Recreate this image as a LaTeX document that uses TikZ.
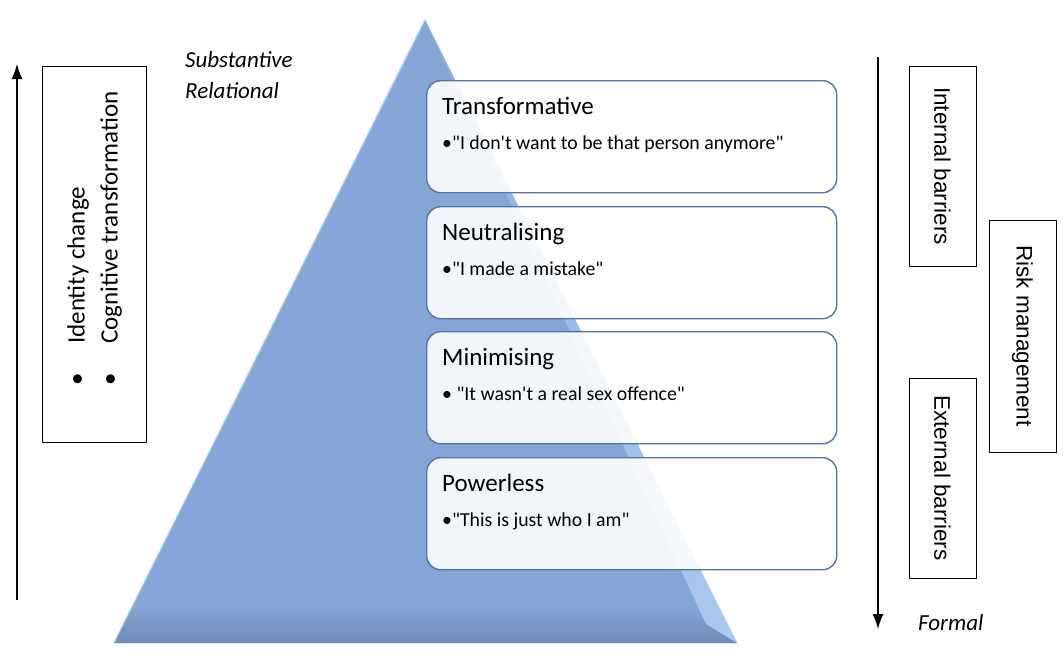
\documentclass[tikz,border=0pt]{standalone}
\usepackage{fontspec}
\usetikzlibrary{positioning,arrows.meta}
\newfontfamily\calib{Carlito}
\newfontfamily\arialf{Liberation Sans}
\definecolor{pyrblue}{RGB}{132,165,213}
\definecolor{pyrdark}{RGB}{110,138,182}
\definecolor{pyrlight}{RGB}{172,200,240}
\definecolor{edgeblue}{RGB}{82,116,170}

\begin{document}
\begin{tikzpicture}[x=1pt,y=-1pt,
	level/.style={draw=edgeblue,line width=1.4pt,rounded corners=14pt,fill=white,fill opacity=0.9,
		minimum width=410pt,minimum height=112pt,anchor=north west,inner sep=0pt},
	title/.style={font=\calib\fontsize{25}{30}\selectfont,anchor=base west,inner sep=0pt},
	quote/.style={font=\calib\fontsize{19.8}{23}\selectfont,anchor=base west,inner sep=0pt},
	sidebox/.style={draw,line width=1pt,rotate=-90,inner sep=0pt,minimum height=67pt,
		font=\arialf\fontsize{22.5}{26}\selectfont},
	tag/.style={font=\calib\itshape\fontsize{23}{26}\selectfont,anchor=base west,inner sep=0pt},
	arr/.style={line width=1.2pt,-{Latex[length=15pt,width=11pt]}}]
\useasboundingbox (0,0) rectangle (1064,670);

% pyramid
\fill[pyrblue] (425,20) -- (737,643) -- (114,643) -- cycle;
\begin{scope}
	\clip (425,20) -- (737,643) -- (114,643) -- cycle;
	\shade[top color=pyrblue,bottom color=pyrdark] (100,608) rectangle (740,643);
\end{scope}
\shade[left color=pyrblue!70!pyrlight,right color=pyrlight] (425,20) -- (737,643) -- (706,624) -- cycle;
\draw[pyrlight,line width=1.5pt,opacity=0.7] (425,20) -- (114,643);

% levels
\node[level] (trans) at (426,80) {};
\node[title] (transT) at ([shift={(16,34)}]trans.north west) {Transformative};
\node[quote] (transQ) at ([shift={(16,69)}]trans.north west) {•"I don't want to be that person anymore"};

\node[level] (neut) at (426,206) {};
\node[title] (neutT) at ([shift={(16,34)}]neut.north west) {Neutralising};
\node[quote] (neutQ) at ([shift={(16,69)}]neut.north west) {•"I made a mistake"};

\node[level] (mini) at (426,331) {};
\node[title] (miniT) at ([shift={(16,34)}]mini.north west) {Minimising};
\node[quote] (miniQ) at ([shift={(16,69)}]mini.north west) {• "It wasn't a real sex offence"};

\node[level] (power) at (426,457) {};
\node[title] (powerT) at ([shift={(16,34)}]power.north west) {Powerless};
\node[quote] (powerQ) at ([shift={(16,69)}]power.north west) {•"This is just who I am"};

% left side
\coordinate (upfoot) at (17,600);
\coordinate (uptip) at (17,64);
\draw[arr] (upfoot) -- (uptip);
\node[draw,line width=1pt,minimum width=104pt,minimum height=376pt,inner sep=0pt] (cogbox) at (94,254) {};
\node[rotate=90,anchor=west,align=left,inner sep=0pt,font=\calib\fontsize{25}{33}\selectfont] (coglist) at (94.5,386)
	{\makebox[42pt][l]{•}Identity change\\\makebox[42pt][l]{•}Cognitive transformation};
\node[tag] (subst) at (185,67) {Substantive};
\node[tag] (relat) at (185,98) {Relational};

% right side
\coordinate (downtop) at (878,57);
\coordinate (downtip) at (878,629);
\draw[arr] (downtop) -- (downtip);
\node[sidebox,minimum width=200pt] (internal) at (942.5,166) {Internal barriers};
\node[sidebox,minimum width=232pt] (risk) at (1022.5,336) {Risk management};
\node[sidebox,minimum width=200pt] (external) at (942.5,478) {External barriers};
\node[tag] (formal) at (918,630) {Formal};
\end{tikzpicture}
\end{document}
